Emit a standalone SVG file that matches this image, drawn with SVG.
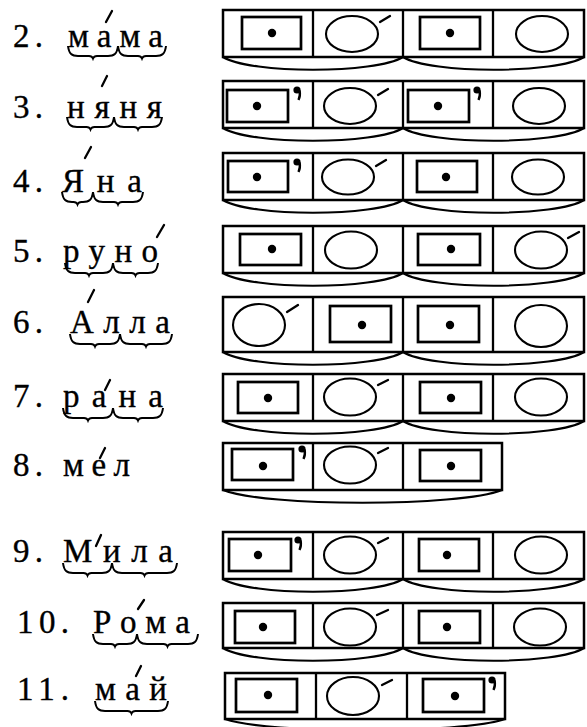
<svg xmlns="http://www.w3.org/2000/svg" xmlns:xlink="http://www.w3.org/1999/xlink" width="587" height="727" viewBox="0 0 587 727">
<style>
.box{fill:none;stroke:#000;stroke-width:2.5}
.div{stroke:#000;stroke-width:2.3}
.sq{fill:none;stroke:#000;stroke-width:2.7}
.el{fill:none;stroke:#000;stroke-width:2.1}
.dot{fill:#000}
.acc{stroke:#000;stroke-width:2.3;stroke-linecap:round}
.arc{fill:none;stroke:#000;stroke-width:2.1}
.br{fill:none;stroke:#000;stroke-width:2}
text{font-family:"Liberation Serif","Times New Roman",serif;font-size:33px;fill:#000;stroke:#000;stroke-width:0.35}
</style>
<defs>
<g id="soft"><circle cx="0" cy="0" r="3.6" fill="#000"/><path d="M2.6,0.5 Q3.6,6 1.5,10" fill="none" stroke="#000" stroke-width="2.4"/></g>
</defs>
<rect width="587" height="727" fill="#fff"/>

<g id="row-2">
<text x="13" y="47" textLength="30" lengthAdjust="spacing">2.</text>
<text x="68" y="47" textLength="95" lengthAdjust="spacing">мама</text>
<line class="acc" x1="106" y1="22" x2="112" y2="11"/>
<path class="br" d="M68,46 C69,54 72,56 78,56 L89,56 Q92,56 93,58.5 Q94,56 97,56 L108,56 C114,56 117,54 118,46"/>
<path class="br" d="M118,46 C119,54 122,56 128,56 L138,56 Q141,56 142,58.5 Q143,56 146,56 L156,56 C162,56 165,54 166,46"/>
<rect class="box" x="223" y="10" width="361" height="47"/>
<line class="div" x1="313" y1="10" x2="313" y2="57"/><line class="div" x1="403" y1="10" x2="403" y2="57"/><line class="div" x1="493" y1="10" x2="493" y2="57"/>
<path class="arc" d="M223,57 C250,74 376,74 403,57"/><path class="arc" d="M403,57 C430,74 557,74 584,57"/>
<rect class="sq" x="242" y="17" width="59" height="32"/><circle class="dot" cx="272" cy="33" r="4.2"/>
<ellipse class="el" cx="352" cy="34" rx="26" ry="18"/><line class="acc" x1="380" y1="22" x2="390" y2="16"/>
<rect class="sq" x="420" y="17" width="60" height="32"/><circle class="dot" cx="450" cy="33" r="4.2"/>
<ellipse class="el" cx="542" cy="34" rx="26" ry="18"/>
</g>

<g id="row-3">
<text x="13" y="118" textLength="30" lengthAdjust="spacing">3.</text>
<text x="67" y="118" textLength="95" lengthAdjust="spacing">няня</text>
<line class="acc" x1="102" y1="86" x2="107" y2="76"/>
<path class="br" d="M67,117 C68,125 71,127 77,127 L86.5,127 Q89.5,127 90.5,129.5 Q91.5,127 94.5,127 L104,127 C110,127 113,125 114,117"/>
<path class="br" d="M114,117 C115,125 118,127 124,127 L134,127 Q137,127 138,129.5 Q139,127 142,127 L152,127 C158,127 161,125 162,117"/>
<rect class="box" x="223" y="81" width="361" height="47"/>
<line class="div" x1="313" y1="81" x2="313" y2="128"/><line class="div" x1="403" y1="81" x2="403" y2="128"/><line class="div" x1="493" y1="81" x2="493" y2="128"/>
<path class="arc" d="M223,128 C250,145 376,145 403,128"/><path class="arc" d="M403,128 C430,145 557,145 584,128"/>
<rect class="sq" x="227" y="90" width="61" height="32"/><circle class="dot" cx="257" cy="106" r="4.2"/><use xlink:href="#soft" x="297" y="90"/>
<ellipse class="el" cx="350" cy="106" rx="26" ry="18"/><line class="acc" x1="378" y1="95" x2="388" y2="89"/>
<rect class="sq" x="408" y="90" width="61" height="32"/><circle class="dot" cx="438" cy="106" r="4.2"/><use xlink:href="#soft" x="477" y="90"/>
<ellipse class="el" cx="539" cy="106" rx="26" ry="18"/>
</g>

<g id="row-4">
<text x="13" y="192" textLength="30" lengthAdjust="spacing">4.</text>
<text x="62" y="192" textLength="80" lengthAdjust="spacing">Яна</text>
<line class="acc" x1="85" y1="158" x2="91" y2="147"/>
<path class="br" d="M62,192 C63,200 66,202 72,202 L73.5,202 Q76.5,202 77.5,204.5 Q78.5,202 81.5,202 L83,202 C89,202 92,200 93,192"/>
<path class="br" d="M93,192 C94,200 97,202 103,202 L114,202 Q117,202 118,204.5 Q119,202 122,202 L133,202 C139,202 142,200 143,192"/>
<rect class="box" x="223" y="153" width="361" height="47"/>
<line class="div" x1="313" y1="153" x2="313" y2="200"/><line class="div" x1="403" y1="153" x2="403" y2="200"/><line class="div" x1="493" y1="153" x2="493" y2="200"/>
<path class="arc" d="M223,200 C250,217 376,217 403,200"/><path class="arc" d="M403,200 C430,217 557,217 584,200"/>
<rect class="sq" x="228" y="161" width="60" height="31"/><circle class="dot" cx="257" cy="177" r="4.2"/><use xlink:href="#soft" x="297" y="162"/>
<ellipse class="el" cx="348" cy="177" rx="26" ry="17.5"/><line class="acc" x1="376" y1="166" x2="386" y2="160"/>
<rect class="sq" x="417" y="161" width="60" height="31"/><circle class="dot" cx="446" cy="177" r="4.2"/>
<ellipse class="el" cx="538" cy="177" rx="26" ry="17.5"/>
</g>

<g id="row-5">
<text x="13" y="262" textLength="30" lengthAdjust="spacing">5.</text>
<text x="63" y="262" textLength="95" lengthAdjust="spacing">руно</text>
<line class="acc" x1="157" y1="237" x2="164" y2="225"/>
<path class="br" d="M65,263 C66,271 69,273 75,273 L85,273 Q88,273 89,275.5 Q90,273 93,273 L103,273 C109,273 112,271 113,263"/>
<path class="br" d="M113,263 C114,271 117,273 123,273 L131.5,273 Q134.5,273 135.5,275.5 Q136.5,273 139.5,273 L148,273 C154,273 157,271 158,263"/>
<rect class="box" x="223" y="226" width="361" height="47"/>
<line class="div" x1="313" y1="226" x2="313" y2="273"/><line class="div" x1="403" y1="226" x2="403" y2="273"/><line class="div" x1="493" y1="226" x2="493" y2="273"/>
<path class="arc" d="M223,273 C250,290 376,290 403,273"/><path class="arc" d="M403,273 C430,290 557,290 584,273"/>
<rect class="sq" x="240" y="234" width="61" height="31"/><circle class="dot" cx="272" cy="249" r="4.2"/>
<ellipse class="el" cx="351" cy="250" rx="26" ry="18.5"/>
<rect class="sq" x="418" y="234" width="62" height="31"/><circle class="dot" cx="451" cy="249" r="4.2"/>
<ellipse class="el" cx="541" cy="250" rx="26" ry="18.5"/><line class="acc" x1="568" y1="238" x2="579" y2="232"/>
</g>

<g id="row-6">
<text x="13" y="333" textLength="30" lengthAdjust="spacing">6.</text>
<text x="70" y="333" textLength="100" lengthAdjust="spacing">Алла</text>
<line class="acc" x1="88" y1="302" x2="94" y2="290"/>
<path class="br" d="M70,334 C71,342 74,344 80,344 L91,344 Q94,344 95,346.5 Q96,344 99,344 L110,344 C116,344 119,342 120,334"/>
<path class="br" d="M120,334 C121,342 124,344 130,344 L142,344 Q145,344 146,346.5 Q147,344 150,344 L162,344 C168,344 171,342 172,334"/>
<rect class="box" x="223" y="297" width="361" height="55"/>
<line class="div" x1="313" y1="297" x2="313" y2="352"/><line class="div" x1="403" y1="297" x2="403" y2="352"/><line class="div" x1="493" y1="297" x2="493" y2="352"/>
<path class="arc" d="M223,352 C250,369 376,369 403,352"/><path class="arc" d="M403,352 C430,369 557,369 584,352"/>
<ellipse class="el" cx="259" cy="325" rx="26" ry="21"/><line class="acc" x1="287" y1="312" x2="298" y2="305"/>
<rect class="sq" x="330" y="306" width="61" height="36"/><circle class="dot" cx="362" cy="325" r="4.2"/>
<rect class="sq" x="418" y="306" width="61" height="36"/><circle class="dot" cx="450" cy="325" r="4.2"/>
<ellipse class="el" cx="541" cy="326" rx="26" ry="21"/>
</g>

<g id="row-7">
<text x="13" y="407" textLength="30" lengthAdjust="spacing">7.</text>
<text x="63" y="407" textLength="100" lengthAdjust="spacing">рана</text>
<line class="acc" x1="105" y1="390" x2="110" y2="380"/>
<path class="br" d="M63,408 C64,416 67,418 73,418 L84,418 Q87,418 88,420.5 Q89,418 92,418 L103,418 C109,418 112,416 113,408"/>
<path class="br" d="M113,408 C114,416 117,418 123,418 L134,418 Q137,418 138,420.5 Q139,418 142,418 L153,418 C159,418 162,416 163,408"/>
<rect class="box" x="223" y="374" width="361" height="47"/>
<line class="div" x1="313" y1="374" x2="313" y2="421"/><line class="div" x1="403" y1="374" x2="403" y2="421"/><line class="div" x1="493" y1="374" x2="493" y2="421"/>
<path class="arc" d="M223,421 C250,438 376,438 403,421"/><path class="arc" d="M403,421 C430,438 557,438 584,421"/>
<rect class="sq" x="238" y="382" width="60" height="31"/><circle class="dot" cx="268" cy="398" r="4.2"/>
<ellipse class="el" cx="350" cy="397" rx="26" ry="18.5"/><line class="acc" x1="378" y1="385" x2="388" y2="380"/>
<rect class="sq" x="420" y="382" width="61" height="31"/><circle class="dot" cx="451" cy="398" r="4.2"/>
<ellipse class="el" cx="541" cy="397" rx="26" ry="18.5"/>
</g>

<g id="row-8">
<text x="13" y="476" textLength="30" lengthAdjust="spacing">8.</text>
<text x="63" y="476" textLength="67" lengthAdjust="spacing">мел</text>
<line class="acc" x1="100" y1="458" x2="105" y2="448"/>
<rect class="box" x="223" y="443" width="279" height="47"/>
<line class="div" x1="313" y1="443" x2="313" y2="490"/><line class="div" x1="403" y1="443" x2="403" y2="490"/>
<path class="arc" d="M223,490 C265,507 460,507 502,490"/>
<rect class="sq" x="232" y="449" width="61" height="31"/><circle class="dot" cx="263" cy="466" r="4.2"/><use xlink:href="#soft" x="302" y="449"/>
<ellipse class="el" cx="350" cy="465" rx="26" ry="18.5"/><line class="acc" x1="378" y1="453" x2="388" y2="448"/>
<rect class="sq" x="420" y="450" width="61" height="31"/><circle class="dot" cx="451" cy="466" r="4.2"/>
</g>

<g id="row-9">
<text x="13" y="562" textLength="30" lengthAdjust="spacing">9.</text>
<text x="63" y="562" textLength="110" lengthAdjust="spacing">Мила</text>
<line class="acc" x1="96" y1="546" x2="101" y2="535"/>
<path class="br" d="M63,563 C64,571 67,573 73,573 L83.5,573 Q86.5,573 87.5,575.5 Q88.5,573 91.5,573 L102,573 C108,573 111,571 112,563"/>
<path class="br" d="M112,563 C113,571 116,573 122,573 L140.5,573 Q143.5,573 144.5,575.5 Q145.5,573 148.5,573 L167,573 C173,573 176,571 177,563"/>
<rect class="box" x="223" y="532" width="361" height="47"/>
<line class="div" x1="313" y1="532" x2="313" y2="579"/><line class="div" x1="403" y1="532" x2="403" y2="579"/><line class="div" x1="493" y1="532" x2="493" y2="579"/>
<path class="arc" d="M223,579 C250,596 376,596 403,579"/><path class="arc" d="M403,579 C430,596 557,596 584,579"/>
<rect class="sq" x="229" y="539" width="62" height="32"/><circle class="dot" cx="258" cy="555" r="4.2"/><use xlink:href="#soft" x="298" y="540"/>
<ellipse class="el" cx="350" cy="555" rx="26" ry="18.5"/><line class="acc" x1="378" y1="543" x2="388" y2="538"/>
<rect class="sq" x="419" y="539" width="60" height="32"/><circle class="dot" cx="447" cy="555" r="4.2"/>
<ellipse class="el" cx="541" cy="555" rx="26" ry="18.5"/>
</g>

<g id="row-10">
<text x="17" y="633" textLength="52" lengthAdjust="spacing">10.</text>
<text x="93" y="633" textLength="97" lengthAdjust="spacing">Рома</text>
<line class="acc" x1="138" y1="609" x2="144" y2="600"/>
<path class="br" d="M93,634 C94,642 97,644 103,644 L111,644 Q114,644 115,646.5 Q116,644 119,644 L127,644 C133,644 136,642 137,634"/>
<path class="br" d="M137,634 C138,642 141,644 147,644 L163.5,644 Q166.5,644 167.5,646.5 Q168.5,644 171.5,644 L188,644 C194,644 197,642 198,634"/>
<rect class="box" x="223" y="603" width="361" height="45"/>
<line class="div" x1="313" y1="603" x2="313" y2="648"/><line class="div" x1="403" y1="603" x2="403" y2="648"/><line class="div" x1="493" y1="603" x2="493" y2="648"/>
<path class="arc" d="M223,648 C250,665 376,665 403,648"/><path class="arc" d="M403,648 C430,665 557,665 584,648"/>
<rect class="sq" x="235" y="611" width="60" height="32"/><circle class="dot" cx="263" cy="627" r="4.2"/>
<ellipse class="el" cx="350" cy="627" rx="26" ry="18.5"/><line class="acc" x1="377" y1="615" x2="388" y2="610"/>
<rect class="sq" x="419" y="611" width="61" height="32"/><circle class="dot" cx="447" cy="627" r="4.2"/>
<ellipse class="el" cx="540" cy="627" rx="26" ry="18.5"/>
</g>

<g id="row-11">
<text x="17" y="700" textLength="52" lengthAdjust="spacing">11.</text>
<text x="95" y="700" textLength="72" lengthAdjust="spacing">май</text>
<line class="acc" x1="136" y1="676" x2="141" y2="666"/>
<path class="br" d="M95,701 C96,709 99,711 105,711 L127.5,711 Q130.5,711 131.5,713.5 Q132.5,711 135.5,711 L158,711 C164,711 167,709 168,701"/>
<rect class="box" x="225" y="673" width="280" height="46"/>
<line class="div" x1="316" y1="673" x2="316" y2="719"/><line class="div" x1="407" y1="673" x2="407" y2="719"/>
<path class="arc" d="M225,719 C267,734 463,734 505,719"/>
<rect class="sq" x="236" y="679" width="61" height="33"/><circle class="dot" cx="268" cy="695" r="4.2"/>
<ellipse class="el" cx="353" cy="696" rx="26" ry="19"/><line class="acc" x1="382" y1="685" x2="392" y2="680"/>
<rect class="sq" x="423" y="679" width="61" height="33"/><circle class="dot" cx="455" cy="696" r="4.2"/><use xlink:href="#soft" x="492" y="680"/>
</g>
</svg>
